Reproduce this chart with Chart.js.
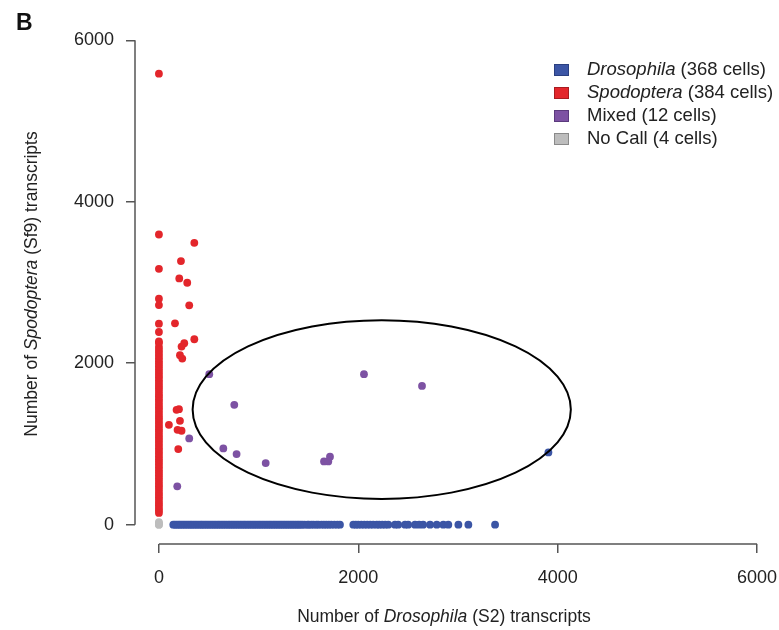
<!DOCTYPE html>
<html>
<head>
<meta charset="utf-8">
<script src="https://cdn.jsdelivr.net/npm/chart.js@4"></script>
<style>
html,body{margin:0;padding:0;background:#fff;}
#wrap{width:779px;height:630px;position:relative;}
</style>
</head>
<body>
<div id="wrap"><canvas id="c" width="779" height="630"></canvas></div>
<script>
// ---------- data ----------
const axisTicks = [0, 2000, 4000, 6000];

// Drosophila cells: x = S2 transcripts, y = Sf9 transcripts
const drosophilaX = [144,160,178,195,210,228,245,262,280,297,315,330,348,365,382,400,418,433,450,468,485,502,520,537,555,572,590,606,624,641,658,676,694,710,728,745,762,780,797,815,832,850,866,884,901,918,936,953,970,988,1005,1022,1040,1057,1075,1092,1110,1126,1144,1161,1178,1196,1213,1230,1248,1265,1283,1300,1318,1335,1352,1370,1388,1404,1422,1440,1462,1490,1505,1530,1552,1580,1600,1630,1655,1680,1705,1730,1760,1790,1816,1950,1975,2000,2030,2060,2090,2120,2150,2185,2210,2240,2270,2301,2368,2400,2469,2500,2569,2610,2650,2720,2787,2853,2903,3004,3104,3372,3907];
const drosophilaY = [0,0,0,0,0,0,0,0,0,0,0,0,0,0,0,0,0,0,0,0,0,0,0,0,0,0,0,0,0,0,0,0,0,0,0,0,0,0,0,0,0,0,0,0,0,0,0,0,0,0,0,0,0,0,0,0,0,0,0,0,0,0,0,0,0,0,0,0,0,0,0,0,0,0,0,0,0,0,0,0,0,0,0,0,0,0,0,0,0,0,0,0,0,0,0,0,0,0,0,0,0,0,0,0,0,0,0,0,0,0,0,0,0,0,0,0,0,0,895];

// Spodoptera cells
const spodopteraX = [0,0,0,0,0,0,0,0,0,0,0,0,0,0,0,0,0,0,0,0,0,0,0,0,0,0,0,0,0,0,0,0,0,0,0,0,0,0,0,0,0,0,0,0,0,0,0,0,0,0,0,0,0,0,0,0,0,0,0,0,0,0,0,0,0,0,0,0,0,0,0,
  355,221,204,284,304,161,355,254,227,211,234,177,201,100,211,187,227,194];
const spodopteraY = [145,175,205,240,270,305,340,372,405,440,475,505,540,575,610,642,675,710,745,778,810,845,880,912,945,980,1015,1048,1080,1115,1150,1182,1215,1250,1285,1318,1350,1385,1420,1452,1485,1520,1555,1588,1620,1655,1690,1722,1755,1790,1825,1858,1890,1925,1960,1992,2025,2060,2095,2130,2165,2200,2250,2387,2490,2720,2799,3170,3595,5587,2270,
  3492,3265,3051,2997,2717,2494,2297,2247,2206,2099,2057,1422,1431,1237,1286,1175,1163,936];

// Mixed cells
const mixedX = [505,2057,2639,756,304,646,779,1071,1656,1716,1699,184];
const mixedY = [1864,1864,1719,1484,1068,944,874,763,783,841,783,474];

// No call cells
const noCallX = [0,0,0,0];
const noCallY = [0,0,18,30];

// Legend entries: italic part, plain part
const legendItalic = ['Drosophila', 'Spodoptera', '', ''];
const legendPlain  = [' (368 cells)', ' (384 cells)', 'Mixed (12 cells)', 'No Call (4 cells)'];

// Ellipse drawn around the mixed cells (data units)
const ellipseCenter = [2235, 1426];
const ellipseRadii  = [1897, 1107];

// ---------- styling ----------
const COLORS = ['#3b55a5', '#e3262b', '#7d52a3', '#bdbdbd'];
const BORDERS = ['#2a3f80', '#a81c20', '#5b3a7d', '#8a8a8a'];
const FONT = '"Liberation Sans", Arial, Helvetica, sans-serif';
const AXIS_COLOR = '#555';
const TEXT_COLOR = '#222';

function pts(xs, ys){ return xs.map((x,i)=>({x:x, y:ys[i]})); }

const decor = {
  id: 'decor',
  afterDraw(chart){
    const ctx = chart.ctx, xs = chart.scales.x, ys = chart.scales.y, ca = chart.chartArea;
    ctx.save();
    // R-style axis lines (from first to last tick)
    ctx.strokeStyle = AXIS_COLOR; ctx.lineWidth = 1.5;
    ctx.beginPath();
    ctx.moveTo(ca.left, ys.getPixelForValue(axisTicks[0]));
    ctx.lineTo(ca.left, ys.getPixelForValue(axisTicks[axisTicks.length-1]));
    ctx.moveTo(xs.getPixelForValue(axisTicks[0]), ca.bottom);
    ctx.lineTo(xs.getPixelForValue(axisTicks[axisTicks.length-1]), ca.bottom);
    ctx.stroke();

    // ellipse
    const cx = xs.getPixelForValue(ellipseCenter[0]), cy = ys.getPixelForValue(ellipseCenter[1]);
    const rx = Math.abs(xs.getPixelForValue(ellipseCenter[0]+ellipseRadii[0]) - cx);
    const ry = Math.abs(ys.getPixelForValue(ellipseCenter[1]+ellipseRadii[1]) - cy);
    ctx.strokeStyle = '#000'; ctx.lineWidth = 2;
    ctx.beginPath(); ctx.ellipse(cx, cy, rx, ry, 0, 0, Math.PI*2); ctx.stroke();

    // panel letter
    ctx.fillStyle = '#111';
    ctx.font = 'bold 23px ' + FONT;
    ctx.textBaseline = 'alphabetic'; ctx.textAlign = 'left';
    ctx.fillText('B', 16, 30);

    // mixed-style text helper
    function mixed(parts, x, y, align){
      let total = 0;
      parts.forEach(p=>{ ctx.font = p[1]; total += ctx.measureText(p[0]).width; });
      let sx = align === 'center' ? x - total/2 : x;
      parts.forEach(p=>{ ctx.font = p[1]; ctx.textAlign='left'; ctx.fillText(p[0], sx, y); sx += ctx.measureText(p[0]).width; });
    }
    ctx.fillStyle = TEXT_COLOR;
    ctx.textBaseline = 'middle';
    const tf = '17.5px ' + FONT, tfi = 'italic 17.5px ' + FONT;
    // x title
    mixed([['Number of ', tf], ['Drosophila', tfi], [' (S2) transcripts', tf]], 444, 617, 'center');
    // y title (rotated)
    ctx.save();
    ctx.translate(32, 284); ctx.rotate(-Math.PI/2);
    mixed([['Number of ', tf], ['Spodoptera', tfi], [' (Sf9) transcripts', tf]], 0, 0, 'center');
    ctx.restore();

    // legend
    const lf = '18.5px ' + FONT, lfi = 'italic 18.5px ' + FONT;
    for (let i=0;i<legendPlain.length;i++){
      const yy = 70 + i*23;
      ctx.fillStyle = COLORS[i]; ctx.strokeStyle = BORDERS[i]; ctx.lineWidth = 1;
      ctx.fillRect(554, yy-6, 15, 12); ctx.strokeRect(554.5, yy-5.5, 14, 11);
      ctx.fillStyle = TEXT_COLOR;
      const parts = [];
      if (legendItalic[i]) parts.push([legendItalic[i], lfi]);
      parts.push([legendPlain[i], lf]);
      mixed(parts, 587, yy, 'left');
    }
    ctx.restore();
  }
};

function axisCfg(min, max, isX){
  return {
    type: 'linear', min: min, max: max,
    afterBuildTicks: s => { s.ticks = axisTicks.map(v=>({value:v})); },
    afterFit: s => {
      if (isX) { s.height = 86; s.paddingLeft = 0; s.paddingRight = 0; }
      else { s.width = 135; s.paddingTop = 0; s.paddingBottom = 0; }
    },
    border: {display: false},
    grid: {drawOnChartArea: false, drawTicks: true, tickLength: 9, color: AXIS_COLOR, lineWidth: 1.5},
    ticks: {
      callback: v => String(v),
      color: TEXT_COLOR,
      font: {family: FONT, size: 18},
      padding: isX ? 14 : 12,
      autoSkip: false, maxRotation: 0
    }
  };
}

const ds = (label, xs, ys, i) => ({
  label: label, data: pts(xs, ys),
  backgroundColor: COLORS[i], borderWidth: 0,
  pointRadius: 3.9, pointHoverRadius: 3.9
});

new Chart(document.getElementById('c'), {
  type: 'scatter',
  data: {
    datasets: [
      ds('Drosophila (368 cells)', drosophilaX, drosophilaY, 0),
      ds('Spodoptera (384 cells)', spodopteraX, spodopteraY, 1),
      ds('Mixed (12 cells)', mixedX, mixedY, 2),
      ds('No Call (4 cells)', noCallX, noCallY, 3)
    ]
  },
  options: {
    responsive: false, animation: false, devicePixelRatio: 1,
    layout: {padding: {top: 21, right: 1, left: 0, bottom: 0}},
    plugins: {legend: {display: false}, tooltip: {enabled: false}, title: {display: false}},
    scales: {
      x: axisCfg(-240, 6181, true),
      y: axisCfg(-240, 6240, false)
    }
  },
  plugins: [decor]
});
</script>
</body>
</html>
